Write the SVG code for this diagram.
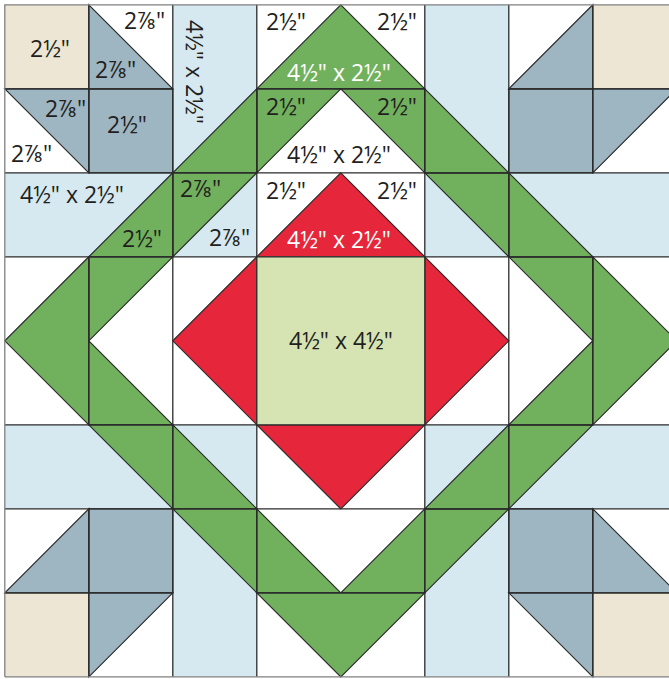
<svg xmlns="http://www.w3.org/2000/svg" width="669" height="679" viewBox="0 0 669 679">
<style>
.g{fill:#71b15e;stroke:#2b2b2b;stroke-width:1.2}
.b{fill:#9eb5c2;stroke:#2b2b2b;stroke-width:1.2}
.r{fill:#e5263b;stroke:#2b2b2b;stroke-width:1.2}
.l{fill:#d6e9f1}
.e{fill:#ede6d4}
.s{fill:#d6e4b3}
.ln{stroke:#2b2b2b;stroke-width:1.3;fill:none}
.o{stroke:#808080;stroke-width:1.3;fill:none}
text{font-family:"Open Sans","Noto Sans","Liberation Sans",sans-serif;font-size:23px;fill:#231f20}
text.w{fill:#fff}
</style>
<rect width="669" height="679" fill="#fff"/>
<g transform="translate(-.2,-.2)">
<g id="sashing">
<rect class="l" x="173" y="5" width="84" height="252"/>
<rect class="l" x="425" y="5" width="84" height="252"/>
<rect class="l" x="5" y="173" width="252" height="84"/>
<rect class="l" x="425" y="173" width="252" height="84"/>
<rect class="l" x="5" y="425" width="252" height="84"/>
<rect class="l" x="425" y="425" width="252" height="84"/>
<rect class="l" x="173" y="425" width="84" height="252"/>
<rect class="l" x="425" y="425" width="84" height="252"/>
</g>
<g id="corners">
<rect class="e" x="5" y="5" width="84" height="84"/>
<rect class="e" x="593" y="5" width="84" height="84"/>
<rect class="e" x="5" y="593" width="84" height="84"/>
<rect class="e" x="593" y="593" width="84" height="84"/>
<rect class="b" x="89" y="89" width="84" height="84"/>
<rect class="b" x="509" y="89" width="84" height="84"/>
<rect class="b" x="89" y="509" width="84" height="84"/>
<rect class="b" x="509" y="509" width="84" height="84"/>
<polygon class="b" points="89,5 173,89 89,89"/>
<polygon class="b" points="5,89 89,89 89,173"/>
<polygon class="b" points="593,5 593,89 509,89"/>
<polygon class="b" points="593,89 677,89 593,173"/>
<polygon class="b" points="89,509 89,593 5,593"/>
<polygon class="b" points="89,593 173,593 89,677"/>
<polygon class="b" points="593,509 677,593 593,593"/>
<polygon class="b" points="509,593 593,593 593,677"/>
</g>
<g id="green-band">
<polygon class="g" points="341,5 425,89 257,89"/>
<polygon class="g" points="257,89 341,89 257,173"/>
<polygon class="g" points="341,89 425,89 425,173"/>
<polygon class="g" points="257,89 257,173 173,173"/>
<polygon class="g" points="173,173 257,173 173,257"/>
<polygon class="g" points="173,173 173,257 89,257"/>
<polygon class="g" points="89,257 173,257 89,341"/>
<polygon class="g" points="89,257 89,425 5,341"/>
<polygon class="g" points="89,341 173,425 89,425"/>
<polygon class="g" points="89,425 173,425 173,509"/>
<polygon class="g" points="173,425 257,509 173,509"/>
<polygon class="g" points="173,509 257,509 257,593"/>
<polygon class="g" points="257,509 341,593 257,593"/>
<polygon class="g" points="425,509 341,593 425,593"/>
<polygon class="g" points="509,509 425,509 425,593"/>
<polygon class="g" points="509,425 509,509 425,509"/>
<polygon class="g" points="593,425 509,425 509,509"/>
<polygon class="g" points="593,341 593,425 509,425"/>
<polygon class="g" points="593,257 677,341 593,425"/>
<polygon class="g" points="509,257 593,257 593,341"/>
<polygon class="g" points="509,173 593,257 509,257"/>
<polygon class="g" points="425,173 509,173 509,257"/>
<polygon class="g" points="425,89 509,173 425,173"/>
<polygon class="g" points="257,593 425,593 341,677"/>
</g>
<g id="center">
<polygon class="r" points="341,173 425,257 257,257"/>
<polygon class="r" points="257,257 257,425 173,341"/>
<polygon class="r" points="425,257 509,341 425,425"/>
<polygon class="r" points="257,425 425,425 341,509"/>
<rect class="s" x="257" y="257" width="168" height="168"/>
</g>
<g id="seams">
<path class="ln" d="M89 5V173M89 257V425M89 509V677M173 5V677M257 5V677M425 5V677M509 5V677M593 5V173M593 257V425M593 509V677"/>
<path class="ln" d="M5 89H173M257 89H425M509 89H677M5 173H677M5 257H677M5 425H677M5 509H677M5 593H173M257 593H425M509 593H677"/>
<path class="o" d="M5 677V5H677M5 677H677"/>
</g>
</g>
<g id="labels">
<text x="30" y="57">2½"</text>
<text x="124" y="29">2⅞"</text>
<text x="95" y="78">2⅞"</text>
<text x="45" y="117">2⅞"</text>
<text x="107" y="133">2½"</text>
<text x="11" y="162">2⅞"</text>
<text x="20" y="203">4½" x 2½"</text>
<text x="122" y="247">2½"</text>
<text x="180" y="197">2⅞"</text>
<text x="209" y="246">2⅞"</text>
<text transform="translate(186,20) rotate(90)">4½" x 2½"</text>
<text x="266" y="30">2½"</text>
<text x="377" y="30">2½"</text>
<text class="w" x="287" y="81">4½" x 2½"</text>
<text x="266" y="115">2½"</text>
<text x="377" y="115">2½"</text>
<text x="287" y="163">4½" x 2½"</text>
<text x="266" y="199">2½"</text>
<text x="377" y="199">2½"</text>
<text class="w" x="287" y="248">4½" x 2½"</text>
<text x="289" y="349">4½" x 4½"</text>
</g>
</svg>
